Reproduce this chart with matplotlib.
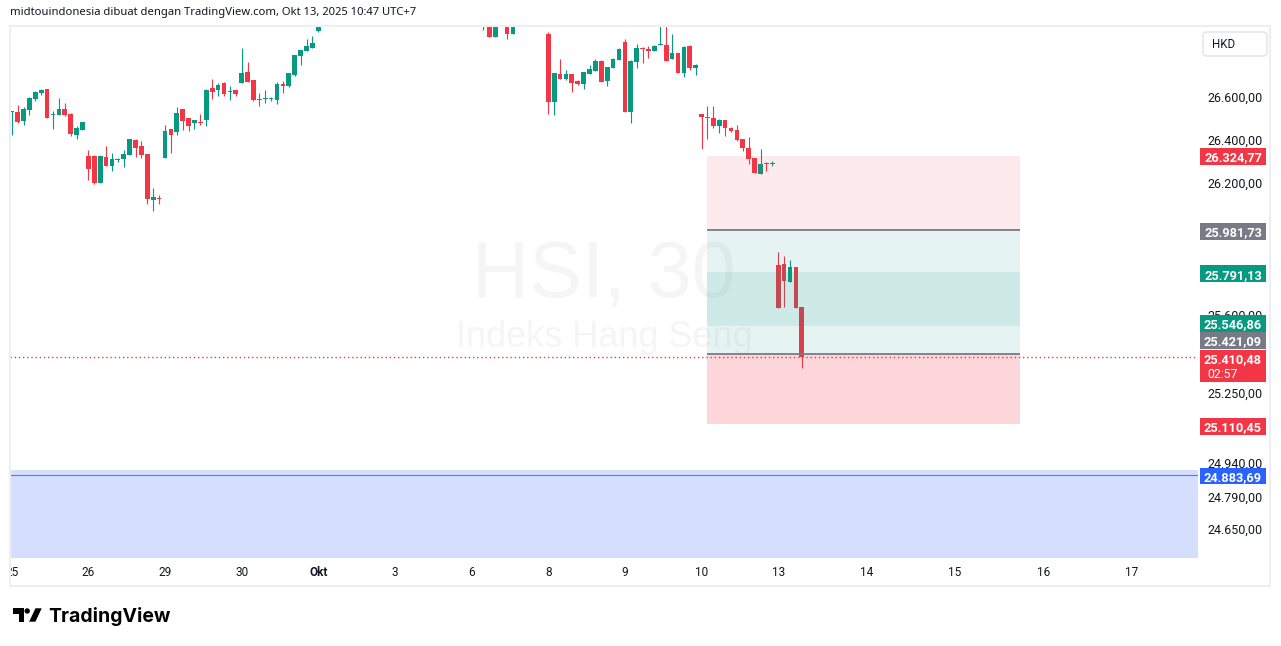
import numpy as np
import matplotlib
matplotlib.use("Agg")
import matplotlib.pyplot as plt
from matplotlib.patches import Rectangle, FancyBboxPatch, Polygon, Circle
from matplotlib.ticker import FixedLocator, NullLocator, FuncFormatter
from matplotlib.transforms import Bbox, TransformedBbox

nan = np.nan

# HSI 30 menit, 25 Sep - 13 Okt 2025, 13 bar per hari.
# nan = bar yang berada di atas area chart (tidak terlihat)
opens = (
    [26528, 26530, 26488, 26541, 26591, 26621, 26638, 26517, 26517, 26544, 26520, 26424, 26447]   # 25
    + [26325, 26325, 26200, 26320, 26280, 26308, 26312, 26331, 26400, 26371, 26334, 26123, 26132]  # 26
    + [26317, 26451, 26438, 26544, 26502, 26480, 26483, 26494, 26642, 26633, 26666, 26625, 26633]  # 29
    + [26667, 26718, 26680, 26592, 26592, 26592, 26587, 26661, 26653, 26705, 26794, 26818, 26832]  # 30
    + [26913] + [nan] * 12                                                                        # Okt 2
    + [nan] * 13                                                                                  # 3
    + [nan, nan, 26990, 26965, 26884, nan, 26950, 26898, nan, nan, nan, nan, nan]                 # 6
    + [26898, 26578, 26708, 26686, 26708, 26675, 26662, 26710, 26724, 26769, 26677, 26738, 26774]  # 8
    + [26859, 26531, 26765, 26831, 26826, 26817, 26847, 26845, 26779, 26807, 26714, 26840, 26738]  # 9
    + [26520, 26508, 26502, 26465, 26492, 26455, 26446, 26404, 26362, 26316, 26241, 26292, 26288]  # 10
    + [25824, 25829, 25747, 25815, 25634]                                                         # 13
)
highs = (
    [26536, 26563, 26552, 26600, 26630, 26636, 26639, 26536, 26595, 26572, 26525, 26465, 26483]
    + [26353, 26330, 26330, 26371, 26339, 26317, 26353, 26404, 26405, 26395, 26334, 26177, 26145]
    + [26469, 26451, 26553, 26544, 26502, 26492, 26520, 26638, 26685, 26666, 26670, 26652, 26633]
    + [26831, 26765, 26680, 26619, 26633, 26601, 26670, 26675, 26713, 26798, 26821, 26875, 26889]
    + [26990] + [nan] * 12
    + [nan] * 13
    + [nan, nan, 27010, 26975, 26970, nan, 26965, 26960, nan, nan, nan, nan, nan]
    + [26905, 26711, 26779, 26727, 26708, 26680, 26718, 26751, 26779, 26774, 26741, 26783, 26831]
    + [26873, 26774, 26850, 26835, 26840, 26845, 26945, 26950, 26898, 26807, 26840, 26845, 26755]
    + [26520, 26558, 26558, 26497, 26492, 26460, 26469, 26404, 26413, 26316, 26357, 26297, 26302]
    + [25883, 25865, 25847, 25815, 25634]
)
lows = (
    [26423, 26480, 26469, 26516, 26581, 26611, 26500, 26452, 26516, 26511, 26418, 26405, 26447]
    + [26214, 26195, 26200, 26280, 26257, 26298, 26275, 26331, 26322, 26317, 26105, 26072, 26105]
    + [26317, 26340, 26424, 26447, 26443, 26452, 26471, 26466, 26591, 26605, 26606, 26587, 26606]
    + [26667, 26672, 26581, 26558, 26573, 26583, 26569, 26620, 26648, 26700, 26752, 26818, 26832]
    + [26905] + [nan] * 12
    + [nan] * 13
    + [nan, nan, 26916, 26884, 26884, nan, 26875, 26898, nan, nan, nan, nan, nan]
    + [26520, 26516, 26686, 26680, 26625, 26656, 26638, 26710, 26724, 26672, 26653, 26738, 26774]
    + [26531, 26480, 26738, 26760, 26785, 26817, 26847, 26769, 26779, 26714, 26695, 26727, 26703]
    + [26357, 26404, 26455, 26432, 26418, 26436, 26395, 26348, 26288, 26246, 26241, 26255, 26279]
    + [25630, 25635, 25747, 25630, 25361]
)
closes = (
    [26536, 26485, 26544, 26595, 26623, 26633, 26503, 26520, 26544, 26516, 26429, 26455, 26483]
    + [26266, 26200, 26325, 26280, 26310, 26312, 26334, 26404, 26363, 26331, 26128, 26135, 26128]
    + [26441, 26424, 26525, 26489, 26466, 26492, 26478, 26633, 26625, 26656, 26615, 26630, 26615]
    + [26713, 26672, 26587, 26587, 26597, 26597, 26661, 26653, 26713, 26798, 26821, 26840, 26854]
    + [26965] + [nan] * 12
    + [nan] * 13
    + [nan, nan, 26950, 26884, 26960, nan, 26898, 26950, nan, nan, nan, nan, nan]
    + [26578, 26711, 26686, 26708, 26667, 26662, 26718, 26732, 26769, 26672, 26741, 26779, 26826]
    + [26531, 26769, 26831, 26826, 26818, 26840, 26850, 26769, 26807, 26714, 26835, 26736, 26751]
    + [26505, 26503, 26465, 26492, 26455, 26441, 26400, 26362, 26311, 26246, 26288, 26288, 26292]
    + [25630, 25753, 25815, 25630, 25410.48]
)

# label hari di sumbu waktu (indeks bar)
day_ticks = [0, 13, 26, 39, 52, 65, 78, 91, 104, 117, 130, 145, 160, 175, 190]
day_labels = ['25', '26', '29', '30', 'Okt', '3', '6', '8', '9', '10', '13', '14', '15', '16', '17']

# label skala harga yang terlihat (yang tertutup penuh oleh label harga tidak digambar)
price_ticks = [26600, 26400, 26200, 26000, 25600, 25250, 24940, 24790, 24650]

# alat posisi short dan long
short_entry, short_stop, short_target = 25981.73, 26324.77, 25546.86
long_entry, long_stop, long_target = 25421.09, 25110.45, 25791.13
tool_start, tool_end = 118, 171

# area biru dan garisnya
blue_low, blue_high = 24400, 24906
blue_line = 24883.69

last_price = 25410.48
countdown = '02:57'

# label harga di skala kanan (geser = pergeseran tampilan agar tidak bertumpuk)
label_prices = [26324.77, 25981.73, 25791.13, 25546.86, 25421.09, 25110.45, 24883.69]
label_kinds = ['red', 'gray', 'green', 'green', 'gray', 'red', 'blue']
label_shift = [0.5, 1, 1.5, -3, -14, 2.5, 0.5]

RED = '#F23645'
GREEN = '#089981'
GRAY = '#787B86'
BLUE = '#2962FF'
TXT = '#131722'
kind_color = {'red': RED, 'green': GREEN, 'gray': GRAY, 'blue': BLUE}

W, H = 1281, 646
plt.rcParams['font.family'] = ['Roboto', 'DejaVu Sans']

fig = plt.figure(figsize=(W / 100, H / 100), dpi=100)
fig.patch.set_facecolor('white')

ax = fig.add_axes([10 / W, (H - 558) / H, 1188 / W, 532 / H])
ax.set_yscale('log')
ax.set_xlim(-0.29, 201.2)
ax.set_ylim(24524.3, 26934.9)
for s in ax.spines.values():
    s.set_visible(False)

# watermark
ax.text(0.5, 0.491, 'HSI, 30', transform=ax.transAxes, ha='center', va='baseline',
        fontsize=57, family='Liberation Sans', color=GRAY, alpha=0.07, zorder=0)
ax.text(0.5, 0.397, 'Indeks Hang Seng', transform=ax.transAxes, ha='center', va='baseline',
        fontsize=26, family='Liberation Sans', color=GRAY, alpha=0.07, zorder=0)

# candle
o = np.array(opens, dtype=float)
h = np.array(highs, dtype=float)
l = np.array(lows, dtype=float)
c = np.array(closes, dtype=float)
x = np.arange(len(o))
ok = ~np.isnan(o)
up = c >= o
cols = np.where(up, GREEN, RED)
ax.vlines(x[ok], l[ok], h[ok], colors=cols[ok], lw=0.8, zorder=2)
body_lo = np.minimum(o, c)
body_h = np.maximum(np.abs(c - o), 2.5)
ax.bar(x[ok], body_h[ok], bottom=body_lo[ok], width=0.8, color=cols[ok], lw=0, zorder=2)

# area posisi
span = [tool_start, tool_end]
ax.fill_between(span, short_entry, short_stop, color=RED, alpha=0.1, lw=0, zorder=3)
ax.fill_between(span, short_target, short_entry, color=GREEN, alpha=0.1, lw=0, zorder=3)
ax.fill_between(span, long_entry, long_target, color=GREEN, alpha=0.1, lw=0, zorder=3)
ax.fill_between(span, long_stop, long_entry, color=RED, alpha=0.2, lw=0, zorder=3)
ax.hlines([short_entry, long_entry], tool_start, tool_end, color=GRAY, lw=1.3, zorder=4)

# area biru
ax.axhspan(blue_low, blue_high, color=BLUE, alpha=0.2, lw=0, zorder=3)
ax.axhline(blue_line, color=BLUE, lw=0.8, alpha=0.8, zorder=4)

# harga terakhir
ax.axhline(last_price, color=RED, lw=1, ls=(0, (1, 2)), zorder=5)

# sumbu
def id_fmt(v, pos=None):
    s = f'{v:,.2f}'
    return s.replace(',', '_').replace('.', ',').replace('_', '.')

ax.yaxis.tick_right()
ax.yaxis.set_major_locator(FixedLocator(price_ticks))
ax.yaxis.set_minor_locator(NullLocator())
ax.yaxis.set_major_formatter(FuncFormatter(id_fmt))
ax.yaxis.set_minor_formatter(FuncFormatter(lambda v, p: ''))
ax.tick_params(axis='y', length=0, pad=7, labelsize=9, labelcolor=TXT)

ax.xaxis.set_major_locator(FixedLocator(day_ticks))
ax.set_xticklabels(day_labels)
ax.tick_params(axis='x', length=0, pad=6, labelsize=8.5, labelcolor=TXT)
clip = TransformedBbox(Bbox([[10.5 / W, 0], [1198 / W, 1]]), fig.transFigure)
for t in ax.get_xticklabels():
    t.set_clip_on(True)
    t.set_clip_box(clip)
    if t.get_text() == 'Okt':
        t.set_fontweight('bold')

# lapisan piksel untuk label dan hiasan
ov = fig.add_axes([0, 0, 1, 1])
ov.set_zorder(5)
ov.set_xlim(0, W)
ov.set_ylim(H, 0)
ov.axis('off')
ov.patch.set_alpha(0)


def price_row(p):
    return H - ax.transData.transform((0, p))[1]


for p, k, sh in zip(label_prices, label_kinds, label_shift):
    yc = price_row(p) + sh
    ov.add_patch(Rectangle((1200, yc - 8.3), 66, 16.6, fc=kind_color[k], ec='none'))
    ov.text(1233, yc, id_fmt(p), ha='center', va='center_baseline', color='white',
            fontsize=9.2, fontweight='bold')

yl = price_row(last_price)
ov.add_patch(Rectangle((1200, yl - 6.5), 66, 31.7, fc=RED, ec='none'))
ov.text(1233, yl + 2, id_fmt(last_price), ha='center', va='center_baseline', color='white',
        fontsize=9.2, fontweight='bold')
ov.text(1207, yl + 16, countdown, ha='left', va='center_baseline', color='white', fontsize=8.8)

# tombol mata uang
ov.add_patch(FancyBboxPatch((1203, 32), 64, 24, boxstyle='round,pad=0,rounding_size=4',
                            fc='white', ec='#E0E3EB', lw=1))
ov.text(1212, 44.5, 'HKD', ha='left', va='center', fontsize=8.3, color=TXT)

# bingkai
ov.add_patch(Rectangle((10, 26), 1260, 560, fill=False, ec='#EDEFF2', lw=1.5))

# judul
ov.text(10, 13, 'midtouindonesia dibuat dengan TradingView.com, Okt 13, 2025 10:47 UTC+7',
        ha='left', va='center', fontsize=8.1, family='Noto Sans', color=TXT)

# logo TradingView
def lx(sx):
    return 12.7 + (sx - 2) * 0.967


def ly(sy):
    return 608.3 + (sy - 6) * 0.893


t_shape = [(2, 6), (14, 6), (14, 21), (8, 21), (8, 12), (2, 12)]
v_shape = [(19, 21), (25.5, 6), (32, 6), (25.5, 21)]
ov.add_patch(Polygon([(lx(a), ly(b)) for a, b in t_shape], closed=True, fc='black', ec='none'))
ov.add_patch(Polygon([(lx(a), ly(b)) for a, b in v_shape], closed=True, fc='black', ec='none'))
ov.add_patch(Circle((lx(17), ly(9)), 2.7, fc='black', ec='none'))
ov.text(48, 622, 'TradingView', ha='left', va='baseline', fontsize=14, family='Inter',
        fontweight='bold', color='black')

fig.savefig('out.png', dpi=100)
